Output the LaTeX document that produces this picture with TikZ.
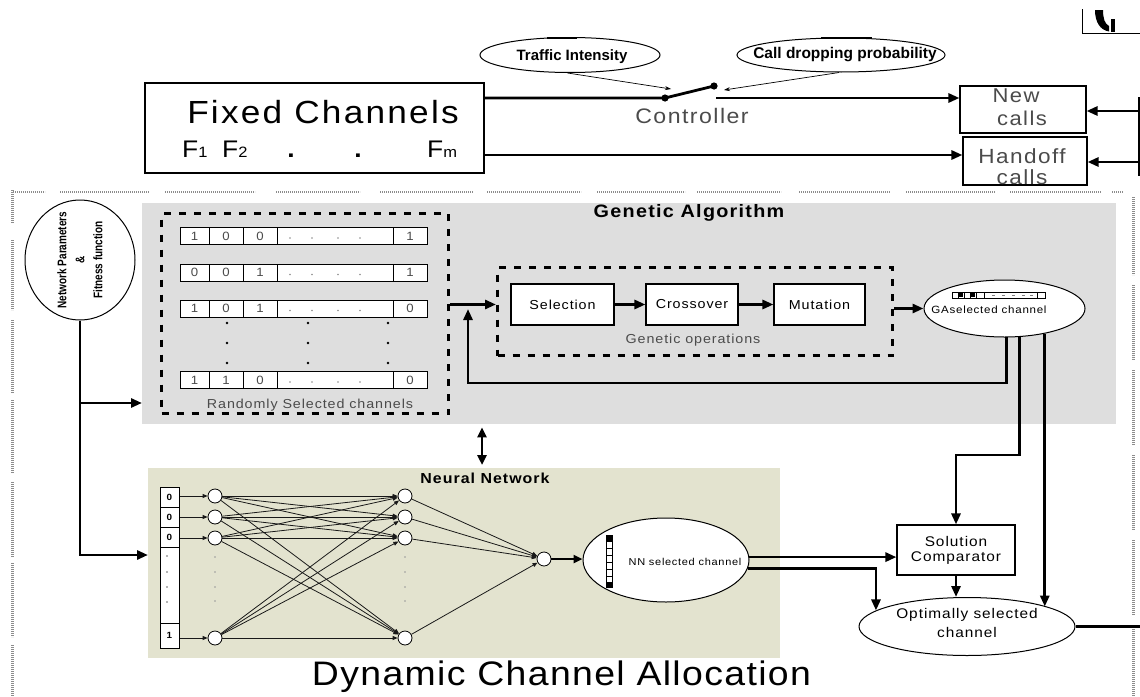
\documentclass[tikz,border=0pt]{standalone}
\usepackage{fontspec}
\setmainfont{Liberation Sans}[LetterSpace=7,FakeStretch=1.1]
\newfontfamily\plainsans{Liberation Sans}
\newfontfamily\condsans{Liberation Sans}[FakeStretch=0.8]
\usetikzlibrary{arrows.meta,calc,shapes.geometric}
\definecolor{gabg}{RGB}{222,222,222}
\definecolor{nnbg}{RGB}{227,227,207}
\definecolor{dotgray}{RGB}{140,140,140}
\definecolor{txtgray}{RGB}{75,75,75}
\newcommand\setfs[1]{\fontsize{#1}{#1}\selectfont}
\tikzset{
  conn/.style={line width=2.8pt,-{Triangle[length=11pt,width=9pt]}},
  bar/.style={line width=2.8pt},
  thinarr/.style={line width=0.7pt,-{Stealth[length=6pt,width=4pt]}},
  nnarr/.style={line width=0.8pt,black!90,-{Triangle[length=5pt,width=4pt]}},
  blk/.style={draw,line width=1.1pt,fill=white,inner sep=0pt},
  ovl/.style={draw,ellipse,line width=1pt,fill=white,inner sep=0pt},
  dashframe/.style={draw,line width=3.2pt,dash pattern=on 7pt off 8pt,inner sep=0pt},
  neuron/.style={draw,circle,fill=white,line width=0.8pt,minimum size=14pt,inner sep=0pt},
  hdots/.style={dotgray,line width=2.4pt,dash pattern=on 0.8pt off 1.2pt},
  vdots/.style={dotgray,line width=3pt,dash pattern=on 0.8pt off 1.2pt},
  bitrow/.style={draw,line width=1pt,fill=white,minimum width=247pt,minimum height=17pt,inner sep=0pt,anchor=west},
}
\begin{document}
\begin{tikzpicture}[x=1pt,y=-1pt]
\useasboundingbox (0,0) rectangle (1140,696);
\fill[white] (0,0) rectangle (1140,696);

% ---------- corner mark ----------
\draw[line width=1pt] (1082,9) -- (1082,33.5) -- (1140,33.5);
\fill (1095,10) -- (1103,10) .. controls (1103,19) and (1105,24) .. (1109,26) -- (1109,31.5) .. controls (1100,30) and (1095,22) .. cycle;
\fill (1111,19) rectangle (1115,31.5);

% ---------- dotted frame ----------
\foreach \s/\e in {13/45,60/149,165/255,276/360,380/473,487/581,597/685,697/781,799/890,906/995,1010/1101,1112/1123}
  \draw[hdots] (\s,192) -- (\e,192);
\foreach \s/\e in {190/223,240/310,320/393,400/473,482/557,563/637,645/696}
  \draw[vdots] (12,\s) -- (12,\e);
\foreach \s/\e in {197/275,285/360,370/445,455/530,540/615,625/696}
  \draw[vdots] (1133,\s) -- (1133,\e);

% ---------- fixed channels and controller ----------
\node[blk,minimum width=339pt,minimum height=90pt] (fixed) at (314.5,128) {};
\node[anchor=base,font=\setfs{32}] (fixedT) at (323,123) {Fixed Channels};
\node[anchor=base west,font=\setfs{24},inner sep=0] (f1) at (182,157) {F{\setfs{15}1}};
\node[anchor=base west,font=\setfs{24},inner sep=0] (f2) at (222,157) {F{\setfs{15}2}};
\node[anchor=base,font=\setfs{24}\bfseries,inner sep=0] (fd1) at (291,157) {.};
\node[anchor=base,font=\setfs{24}\bfseries,inner sep=0] (fd2) at (358,157) {.};
\node[anchor=base west,font=\setfs{24},inner sep=0] (fm) at (427,157) {F{\setfs{15}m}};

\node[ovl,minimum width=180pt,minimum height=35pt] (traffic) at (570,55) {};
\node[anchor=base,font=\plainsans\bfseries\setfs{15}] (trafficT) at (572,60) {Traffic Intensity};
\node[ovl,minimum width=208pt,minimum height=34pt] (call) at (841,55) {};
\node[anchor=base,font=\plainsans\bfseries\setfs{15.5}] (callT) at (845,58) {Call dropping probability};
\draw[line width=2.2pt] (547,37.6) -- (577,37.6);
\draw[line width=2.2pt] (821,37.6) -- (872,37.6);

\coordinate (sw1) at (665,98);
\coordinate (sw2) at (714,86);
\coordinate (sw3) at (716,98);
\coordinate (tipA) at (671,89);
\coordinate (tipB) at (724,90);
\draw[bar] (fixed.east |- sw1) -- (sw1) -- (sw2);
\fill (sw1) circle[radius=3.6pt];
\fill (sw2) circle[radius=3.6pt];
\draw[thinarr] (traffic.262) -- (tipA);
\draw[thinarr] (call.264) -- (tipB);
\node[anchor=base,font=\setfs{21},text=txtgray] (ctrl) at (692,123) {Controller};

\node[blk,minimum width=126pt,minimum height=47pt] (newc) at (1023,109.5) {};
\node[blk,minimum width=124pt,minimum height=48pt] (handoff) at (1025,161) {};
\node[anchor=base,font=\setfs{20},text=txtgray] (newT1) at (1016,102) {New};
\node[anchor=base,font=\setfs{20},text=txtgray] (newT2) at (1022,125) {calls};
\node[anchor=base,font=\setfs{20.5},text=txtgray] (hoT1) at (1022,163) {Handoff};
\node[anchor=base,font=\setfs{20.5},text=txtgray] (hoT2) at (1022,184) {calls};

\draw[conn] (sw3) -- (newc.west |- sw3);
\coordinate (hl) at ($(fixed.east)+(0,27)$);
\draw[conn] (hl) -- (handoff.west |- hl);
\coordinate (rn) at (1140,111);
\coordinate (rh) at (1140,162);
\draw[conn] (rn) -- (newc.east |- rn);
\draw[conn] (rh) -- (handoff.east |- rh);
\draw[line width=1.8pt] (1138.6,97) -- (1138.6,176);

% ---------- genetic algorithm ----------
\node[fill=gabg,minimum width=974pt,minimum height=221pt,inner sep=0,anchor=north west] (gaBG) at (142,203) {};
\node[anchor=base,font=\bfseries\setfs{18}] (gaT) at (689,217) {Genetic Algorithm};

\node[dashframe,minimum width=287pt,minimum height=200pt,anchor=north west] (rand) at (160,212) {};
\foreach \k/\cy/\a/\b/\c/\d in {1/236/1/0/0/1,2/272.5/0/0/1/1,3/308.5/1/0/1/0,4/380/1/1/0/0}{
  \node[bitrow] (row\k) at (180,\cy) {};
  \foreach \xx in {209,243,277,393}
    \draw[line width=1pt] (\xx,\cy-8.5) -- (\xx,\cy+8.5);
  \node[font=\setfs{12},text=txtgray] (ra\k) at (194.5,\cy) {\a};
  \node[font=\setfs{12},text=txtgray] (rb\k) at (226,\cy) {\b};
  \node[font=\setfs{12},text=txtgray] (rc\k) at (260,\cy) {\c};
  \node[font=\setfs{12},text=txtgray] (rd\k) at (410,\cy) {\d};
  \foreach \xx in {290,312,338,360}
    \fill[black!45] (\xx,\cy+2) circle[radius=0.9pt];
}
\foreach \xx in {227,308,388}
  \foreach \yy in {323,343,363}
    \fill (\xx,\yy) circle[radius=1.3pt];
\node[anchor=base,font=\setfs{13},text=txtgray] (randT) at (310,408) {Randomly Selected channels};

\node[dashframe,minimum width=395pt,minimum height=88pt,anchor=north west] (gops) at (496,266) {};
\node[blk,minimum width=103pt,minimum height=41pt,font=\setfs{13}] (sel) at (562.5,304.5) {Selection};
\node[blk,minimum width=92pt,minimum height=41pt,font=\setfs{13}] (cro) at (692,304.5) {Crossover};
\node[blk,minimum width=91pt,minimum height=41pt,font=\setfs{13}] (mut) at (819.5,304.5) {Mutation};
\draw[conn] (sel) -- (cro);
\draw[conn] (cro) -- (mut);
\node[anchor=base,font=\setfs{13},text=txtgray] (gopsT) at (693,343) {Genetic operations};

\node[ovl,minimum width=161pt,minimum height=57pt] (ga) at (1004.5,308.5) {};
\draw[line width=0.8pt,fill=white] (952,292) rectangle (1045,298);
\foreach \xx in {958,964,970,976,984,1037}
  \draw[line width=0.8pt] (\xx,292) -- (\xx,298);
\fill (959,293) rectangle (963,297);
\fill (971,293) rectangle (975,297);
\foreach \xx in {992,1002,1012,1022,1030}
  \draw[black!50,line width=0.6pt] (\xx,295) -- (\xx+3,295);
\node[anchor=base,font=\setfs{10.5}] (gaT2) at (989,313) {GAselected channel};

\draw[conn] (rand.east |- sel) -- (gops.west |- sel);
\draw[conn] (gops.east |- ga) -- (ga.west);
\coordinate (fbL) at (468,383);
\coordinate (fbTip) at (468,309);
\draw[conn] (ga.274) |- (fbL) -- (fbTip);

% ---------- neural network ----------
\node[fill=nnbg,minimum width=632pt,minimum height=190pt,inner sep=0,anchor=north west] (nnBG) at (148,468) {};
\coordinate (dax) at (482,0);
\draw[line width=2.8pt,{Triangle[length=10pt,width=9pt]}-{Triangle[length=10pt,width=9pt]},shorten <=3pt,shorten >=3pt]
  (gaBG.south -| dax) -- (nnBG.north -| dax);
\node[anchor=base,font=\bfseries\setfs{14.5}] (nnT) at (485,483) {Neural Network};

\node[draw,line width=1pt,fill=white,minimum width=19pt,minimum height=161pt,inner sep=0,anchor=north west] (vec) at (160,487) {};
\foreach \yy in {507,527,547,623}
  \draw[line width=1pt] (160,\yy) -- (179,\yy);
\foreach \yy/\v in {497/0,517/0,537/0,635/1}
  \node[font=\bfseries\setfs{9}] at (169.5,\yy) {\v};
\foreach \yy in {556,572,587,602}
  \fill[black!60] (167,\yy) circle[radius=0.9pt];

\foreach \i/\yy in {0/496,1/517,2/538,3/638}{
  \node[neuron] (in\i) at (215,\yy) {};
  \node[neuron] (h\i) at (405,\yy) {};
}
\node[neuron] (out) at (544,559) {};
\foreach \yy in {557,572,587,601}{
  \fill[black!40] (215,\yy) circle[radius=0.8pt];
  \fill[black!40] (405,\yy) circle[radius=0.8pt];
}
\foreach \i in {0,...,3}{
  \draw[nnarr] (vec.east |- in\i) -- (in\i);
  \foreach \j in {0,...,3}
    \draw[nnarr] (in\i) -- (h\j);
  \draw[nnarr] (h\i) -- (out);
}

\node[ovl,minimum width=166pt,minimum height=84pt] (nn) at (666,560) {};
\draw[line width=0.8pt,fill=white] (606,535) rectangle (612,587);
\foreach \yy in {541,548,555,562,569,576,582}
  \draw[line width=0.6pt] (606,\yy) -- (612,\yy);
\fill (606,535) rectangle (612,541);
\fill (606,582) rectangle (612,587);
\node[anchor=base,font=\setfs{10}] (nnT2) at (685,565) {NN selected channel};
\draw[conn,-{Triangle[length=9pt,width=8pt]}] (out.east) -- (nn.west |- out);

% ---------- comparison ----------
\node[blk,minimum width=118pt,minimum height=50pt,align=center,font=\fontsize{14}{15}\selectfont] (sol) at (956,550) {Solution\\Comparator};
\node[ovl,minimum width=216pt,minimum height=58pt] (opt) at (967,626.5) {};
\node[anchor=base,font=\setfs{14}] (optT1) at (967,618) {Optimally selected};
\node[anchor=base,font=\setfs{14}] (optT2) at (967,637) {channel};

\coordinate (k1) at (0,455);
\draw[conn] (ga.298) |- (sol.north |- k1) -- (sol.north);
\draw[conn] (ga.328) -- (ga.328 |- opt.14);
\draw[conn] (nn.2) -- (sol.west |- nn.2);
\draw[conn] (nn.354) -| (opt.170);
\draw[conn] (sol.south) -- (sol.south |- opt.north);
\coordinate (exitR) at (1140,626.5);
\draw[bar] (opt.east) -- (exitR);

% ---------- network parameters ----------
\node[ovl,minimum width=110pt,minimum height=120pt] (np) at (80,260) {};
\node[rotate=90,align=center,font=\condsans\bfseries\fontsize{12.5}{18}\selectfont] (npT) at (np) {Network Parameters\\\&\\Fitness function};
\coordinate (j1) at (80,403);
\coordinate (j2) at (80,555);
\draw[conn] (np.south) |- (nnBG.west |- j2);
\draw[conn] (j1) -- (gaBG.west |- j1);

\node[anchor=base,font=\setfs{34}\addfontfeature{LetterSpace=4}] (dca) at (561.5,685) {Dynamic Channel Allocation};
\end{tikzpicture}
\end{document}
